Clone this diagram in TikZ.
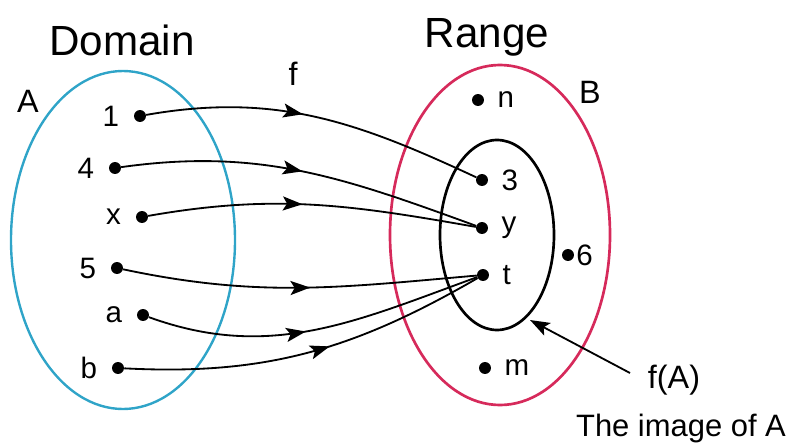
\documentclass[tikz,border=0pt]{standalone}
\usepackage{fontspec}
\setmainfont{Liberation Sans}
\usetikzlibrary{arrows.meta,decorations.markings}

\begin{document}
\begin{tikzpicture}[x=0.025cm,y=0.025cm,
  elem/.style={circle,fill=black,inner sep=0pt,minimum size=8.5pt},
  maparrow/.style={line width=1.3pt,postaction={decorate},
    decoration={markings,mark=at position #1 with {\arrow{Stealth[length=14pt,width=10pt,inset=3pt]}}}},
  maparrow/.default=0.45]
\definecolor{setA}{HTML}{2FA4C8}
\definecolor{setB}{HTML}{D62A5B}
\useasboundingbox (0,0) rectangle (788,442);
\draw[setA,line width=1.7pt] (123,202) ellipse (112 and 169);
\draw[setB,line width=1.9pt] (500,207) ellipse (110 and 170);
\draw[line width=1.9pt] (497,207) ellipse (57 and 95);
\node[font=\fontsize{30}{34}\selectfont] (dom) at (122,402) {Domain};
\node[font=\fontsize{30}{34}\selectfont] (ran) at (487,405) {Range};
\node[font=\fontsize{23}{26}\selectfont] (labA) at (28,341) {A};
\node[font=\fontsize{23}{26}\selectfont] (labB) at (590,350) {B};
\node[font=\fontsize{23}{26}\selectfont] (labf) at (293,368) {f};
\foreach \name/\x/\y in {1/140/326,4/115/274,x/142/225,5/117/174,a/143/127,b/118/74} {
  \node[elem,label={[font=\fontsize{21}{24}\selectfont,label distance=7pt]left:\name}] (p\name) at (\x,\y) {};
}
\foreach \name/\x/\y in {n/478/342,3/482/262,y/482/214,t/483/167,m/485/74} {
  \node[elem,label={[font=\fontsize{21}{24}\selectfont,label distance=6pt]right:\name}] (q\name) at (\x,\y) {};
}
\node[elem,label={[font=\fontsize{21}{24}\selectfont,label distance=-2pt]right:6}] (q6) at (568,187) {};
\draw[maparrow=0.46] (p1) to[out=10,in=155] (q3);
\draw[maparrow=0.5] (p4) to[out=8,in=160] (qy);
\draw[maparrow=0.47] (px) to[out=10,in=170] (qy);
\draw[maparrow=0.53] (p5) to[out=-12,in=185] (qt);
\draw[maparrow=0.47] (pa) to[out=-20,in=200] (qt);
\draw[maparrow=0.56] (pb) to[out=-3,in=210] (qt);
\node[font=\fontsize{23}{26}\selectfont] (fA) at (674,62) {f(A)};
\node[font=\fontsize{22}{25}\selectfont] (img) at (681,14) {The image of A};
\coordinate (edge) at (530,122);
\draw[line width=1.3pt,-{Stealth[length=14pt,width=10pt,inset=3pt]}] (630,69) -- (edge);
\end{tikzpicture}
\end{document}
